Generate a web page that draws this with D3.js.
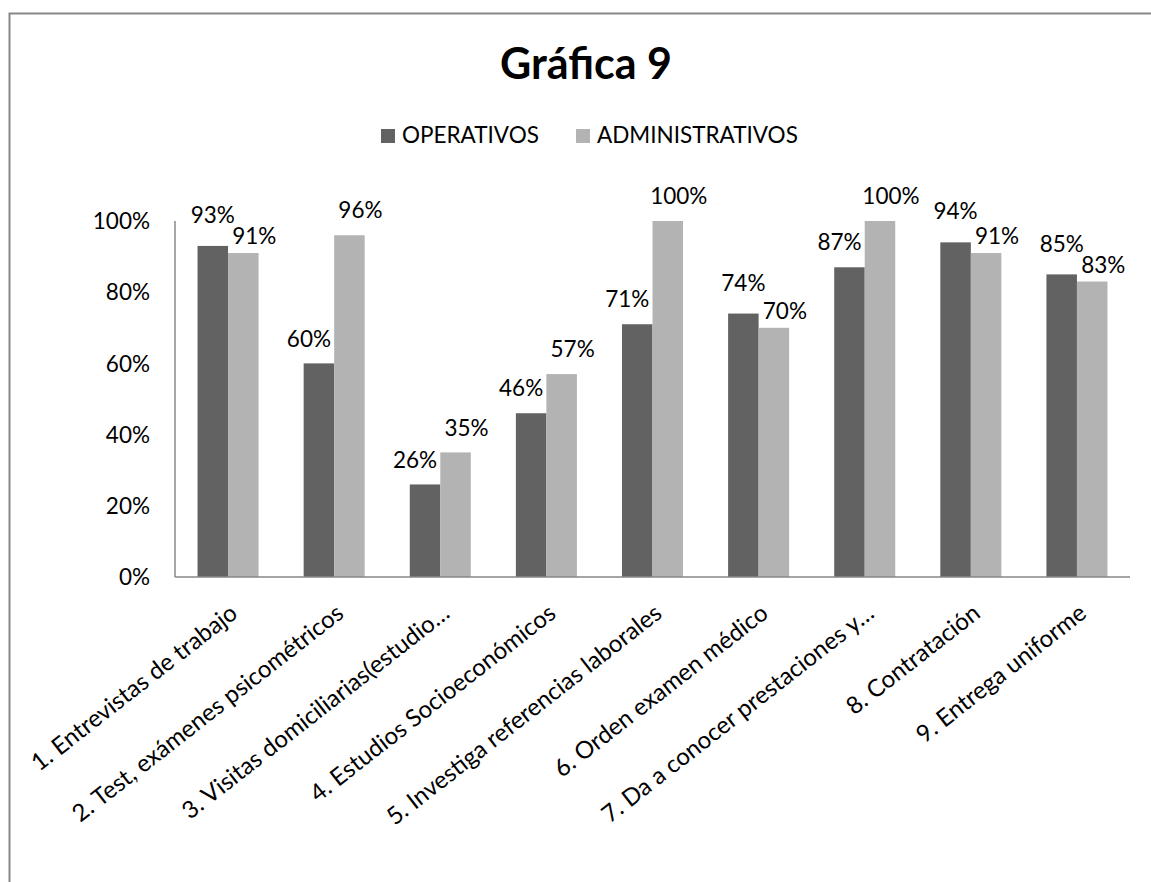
<!DOCTYPE html>
<html>
<head>
<meta charset="utf-8">
<script src="https://cdn.jsdelivr.net/npm/d3@7"></script>
<style>
  html, body { margin: 0; padding: 0; background: #fff; }
  svg { display: block; font-family: Lato, "Open Sans", sans-serif; }
</style>
</head>
<body>
<div id="chart"></div>
<script>
const categories = [
  "1. Entrevistas de trabajo",
  "2. Test, exámenes psicométricos",
  "3. Visitas domiciliarias(estudio…",
  "4. Estudios Socioeconómicos",
  "5. Investiga referencias laborales",
  "6. Orden examen médico",
  "7. Da a conocer prestaciones y…",
  "8. Contratación",
  "9. Entrega uniforme"
];
const seriesNames = ["OPERATIVOS", "ADMINISTRATIVOS"];
const operativos = [0.93, 0.60, 0.26, 0.46, 0.71, 0.74, 0.87, 0.94, 0.85];
const administrativos = [0.91, 0.96, 0.35, 0.57, 1.00, 0.70, 1.00, 0.91, 0.83];
const yTicks = [0, 0.2, 0.4, 0.6, 0.8, 1.0];

const W = 1151, H = 882;
const colors = ["#626262", "#b3b3b3"];
const fontSize = 22.5;

const svg = d3.select("#chart").append("svg")
  .attr("width", W)
  .attr("height", H);

// outer chart frame (only left and top edges visible in the crop)
svg.append("path")
  .attr("d", `M9.5,${H} V13.5 H${W}`)
  .attr("fill", "none")
  .attr("stroke", "#888")
  .attr("stroke-width", 2);

const plot = { left: 175, right: 1130, top: 221, bottom: 577 };

const x0 = d3.scaleBand()
  .domain(categories)
  .range([plot.left, plot.right])
  .paddingInner(0.425)
  .paddingOuter(0.2125);

const x1 = d3.scaleBand()
  .domain(seriesNames)
  .range([0, x0.bandwidth()]);

const y = d3.scaleLinear()
  .domain([0, 1])
  .range([plot.bottom, plot.top]);

// title
svg.append("text")
  .attr("x", 586)
  .attr("y", 79)
  .attr("text-anchor", "middle")
  .attr("font-size", 43)
  .attr("font-weight", "bold")
  .attr("fill", "#000")
  .text("Gráfica 9");

// legend
const legendX = [381, 576];
seriesNames.forEach((name, i) => {
  const g = svg.append("g").attr("transform", `translate(${legendX[i]},129)`);
  g.append("rect")
    .attr("width", 14)
    .attr("height", 14)
    .attr("fill", colors[i]);
  g.append("text")
    .attr("x", 21)
    .attr("y", 14)
    .attr("font-size", fontSize)
    .attr("fill", "#000")
    .text(name);
});

// y axis labels
svg.append("g")
  .selectAll("text")
  .data(yTicks)
  .join("text")
  .attr("x", 150)
  .attr("y", d => y(d))
  .attr("dy", "0.36em")
  .attr("text-anchor", "end")
  .attr("font-size", fontSize)
  .attr("fill", "#000")
  .text(d => d3.format(".0%")(d));

// bars
const rows = categories.map((c, i) => ({
  cat: c,
  vals: [operativos[i], administrativos[i]]
}));

const groups = svg.append("g")
  .selectAll("g")
  .data(rows)
  .join("g")
  .attr("transform", d => `translate(${x0(d.cat)},0)`);

groups.selectAll("rect")
  .data(d => d.vals.map((v, k) => ({ v, k })))
  .join("rect")
  .attr("x", d => x1(seriesNames[d.k]))
  .attr("y", d => y(d.v))
  .attr("width", x1.bandwidth())
  .attr("height", d => y(0) - y(d.v))
  .attr("fill", d => colors[d.k]);

// data labels, nudged apart like in the original
groups.each(function (d) {
  const g = d3.select(this);
  const darkTaller = d.vals[0] > d.vals[1];
  d.vals.forEach((v, k) => {
    let dx, dy;
    if (k === 0) {
      dx = darkTaller ? 0 : -10;
      dy = darkTaller ? -31 : -25;
    } else {
      dx = 11;
      dy = darkTaller ? -17 : -25;
    }
    g.append("text")
      .attr("x", x1(seriesNames[k]) + x1.bandwidth() / 2 + dx)
      .attr("y", y(v) + dy)
      .attr("dy", "0.36em")
      .attr("text-anchor", "middle")
      .attr("font-size", fontSize)
      .attr("fill", "#000")
      .text(d3.format(".0%")(v));
  });
});

// axis lines
svg.append("line")
  .attr("x1", plot.left).attr("x2", plot.left)
  .attr("y1", y(1)).attr("y2", y(0))
  .attr("stroke", "#878787").attr("stroke-width", 1.5);
svg.append("line")
  .attr("x1", plot.left).attr("x2", plot.right)
  .attr("y1", y(0)).attr("y2", y(0))
  .attr("stroke", "#878787").attr("stroke-width", 1.5);

// category labels, slanted
svg.append("g")
  .selectAll("text")
  .data(categories)
  .join("text")
  .attr("transform", d => `translate(${x0(d) + x0.bandwidth() / 2 + 11},616) rotate(-38)`)
  .attr("text-anchor", "end")
  .attr("font-size", 24)
  .attr("fill", "#000")
  .text(d => d);
</script>
</body>
</html>
